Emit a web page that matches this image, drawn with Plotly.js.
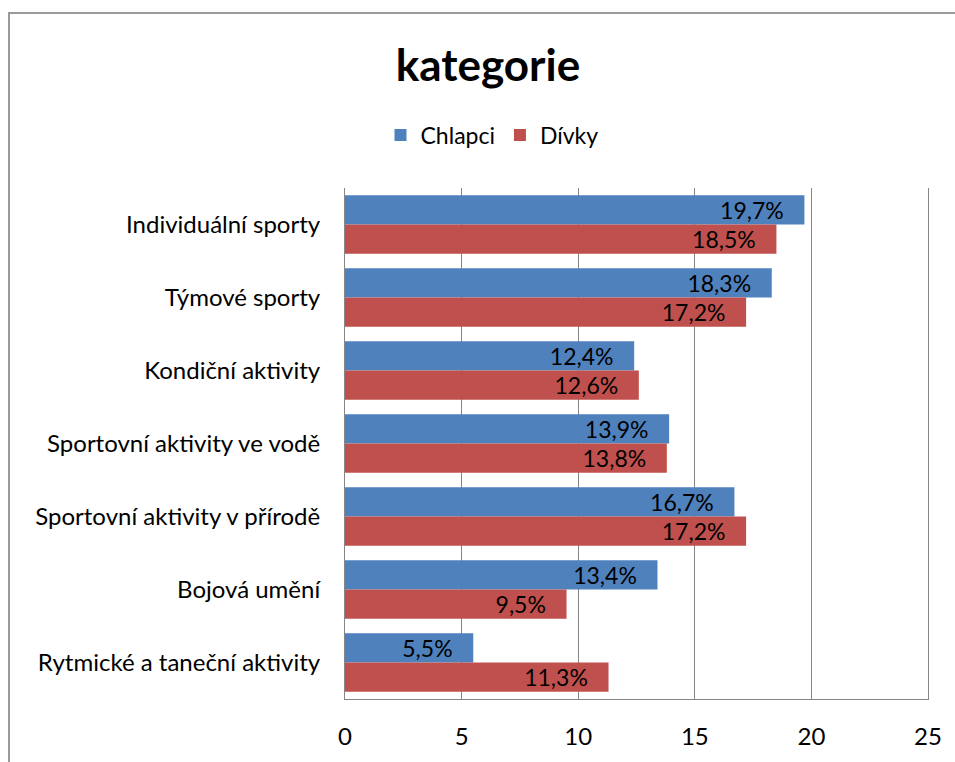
<!DOCTYPE html>
<html>
<head>
<meta charset="utf-8">
<script src="https://cdn.plot.ly/plotly-3.0.1.min.js"></script>
<style>
  html, body { margin: 0; padding: 0; background: #fff; overflow: hidden; }
  #wrap { position: relative; width: 955px; height: 762px; }
  #chart { position: absolute; left: 0; top: 0; width: 955px; height: 762px; }
  #frame { position: absolute; left: 8px; top: 12px; width: 1000px; height: 800px;
           border-left: 2px solid #9a9a9a; border-top: 2px solid #9a9a9a; pointer-events: none; }
</style>
</head>
<body>
<div id="wrap">
  <div id="chart"></div>
  <div id="frame"></div>
</div>
<script>
const categories = [
  "Individuální sporty",
  "Týmové sporty",
  "Kondiční aktivity",
  "Sportovní aktivity ve vodě",
  "Sportovní aktivity v přírodě",
  "Bojová umění",
  "Rytmické a taneční aktivity"
];
const seriesNames = ["Chlapci", "Dívky"];
const chlapci = [19.7, 18.3, 12.4, 13.9, 16.7, 13.4, 5.5];
const divky = [18.5, 17.2, 12.6, 13.8, 17.2, 9.5, 11.3];
const xTicks = [0, 5, 10, 15, 20, 25];

const FONT = "Lato, 'Open Sans', sans-serif";
const colors = ["#4F81BD", "#C0504D"];

function barTrace(name, values, color) {
  return {
    type: "bar",
    orientation: "h",
    name: name,
    y: categories,
    x: values,
    marker: { color: color },
    texttemplate: "%{x:.1f}%\u00a0\u00a0\u00a0",
    textposition: "inside",
    insidetextanchor: "end",
    constraintext: "none",
    textfont: { family: FONT, size: 23, color: "#000" },
    hoverinfo: "none"
  };
}

const data = [
  barTrace(seriesNames[0], chlapci, colors[0]),
  barTrace(seriesNames[1], divky, colors[1])
];

const layout = {
  width: 955,
  height: 762,
  separators: ",.",
  paper_bgcolor: "#fff",
  plot_bgcolor: "#fff",
  font: { family: FONT, size: 24, color: "#000" },
  margin: { l: 345, r: 27, t: 188, b: 63, pad: 0 },
  barmode: "group",
  bargap: 0.2,
  bargroupgap: 0,
  title: {
    text: "<b>kategorie</b>",
    font: { family: FONT, size: 44, color: "#000" },
    x: 488 / 955, xanchor: "center", xref: "container",
    y: 1 - 66 / 762, yanchor: "middle", yref: "container"
  },
  showlegend: true,
  legend: {
    orientation: "h",
    x: 492 / 955, xanchor: "center", xref: "container",
    y: 1 - 135 / 762, yanchor: "middle", yref: "container",
    font: { family: FONT, size: 23, color: "#000" },
    traceorder: "normal",
    itemwidth: 30
  },
  xaxis: {
    range: [0, 25],
    tickvals: xTicks,
    ticktext: xTicks.map(String),
    showgrid: true,
    gridcolor: "#868686",
    gridwidth: 1,
    zeroline: false,
    showline: true,
    linecolor: "#868686",
    linewidth: 1,
    ticks: "",
    ticklabelstandoff: 16,
    tickfont: { family: FONT, size: 24, color: "#000" },
    fixedrange: true
  },
  yaxis: {
    autorange: "reversed",
    type: "category",
    showgrid: false,
    zeroline: false,
    showline: true,
    mirror: true,
    linecolor: "#868686",
    linewidth: 1,
    ticks: "",
    ticklabelstandoff: 19,
    tickfont: { family: FONT, size: 24, color: "#000" },
    fixedrange: true
  }
};

Plotly.newPlot("chart", data, layout, { displayModeBar: false, staticPlot: true });
</script>
</body>
</html>
